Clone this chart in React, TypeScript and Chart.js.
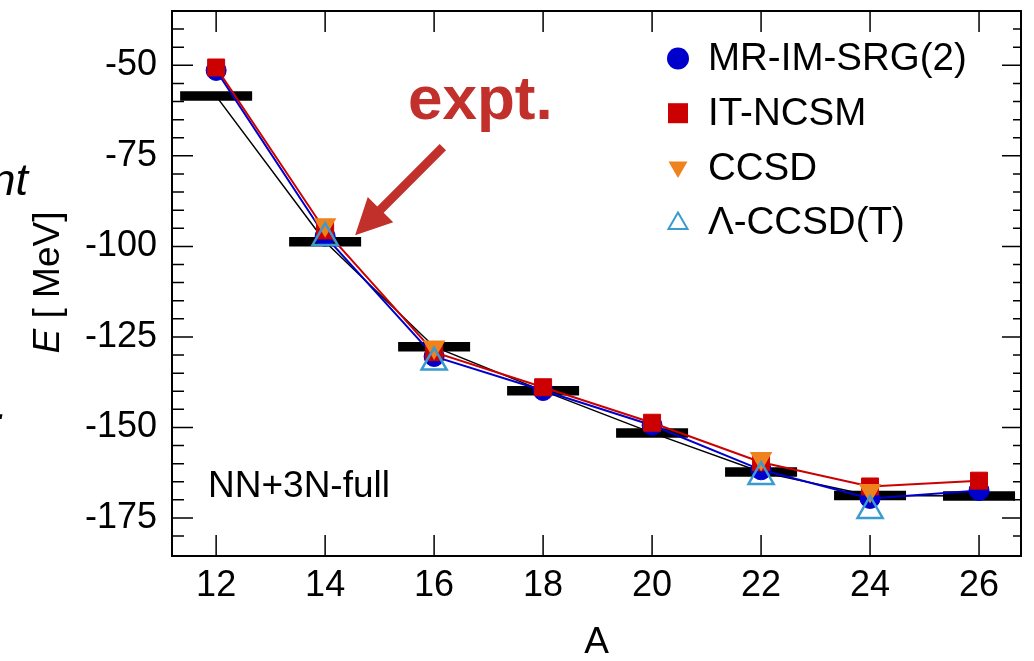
import React, { useEffect, useRef } from "react";
import { Chart, registerables } from "chart.js";

Chart.register(...registerables);

const FONT = '"Liberation Sans", Arial, Helvetica, sans-serif';

// ---- data ----
const MASS_NUMBER = [12, 14, 16, 18, 20, 22, 24, 26];
const EXPT = [-58.5, -98.7, -127.7, -139.9, -151.5, -162.3, -168.8, -168.9];
const MR_IM_SRG2 = [-51.4, -97.2, -130.4, -139.8, -149.4, -161.7, -169.6, -167.4];
const IT_NCSM = [-50.6, -95.6, -129.2, -138.9, -148.7, -159.6, -166.3, -164.7];
const CC_MASS_NUMBER = [14, 16, 22, 24];
const CCSD = [-94.0, -127.8, -158.6, -167.4];
const LAMBDA_CCSD_T = [-97.6, -132.0, -163.6, -173.0];

const X_TICKS = [12, 14, 16, 18, 20, 22, 24, 26];
const Y_TICKS = [-50, -75, -100, -125, -150, -175];
const Y_MINOR_STEP = 5;
const X_MIN = 11.19;
const X_MAX = 26.77;
const Y_MIN = -185.5;
const Y_MAX = -35;

const X_TITLE = "A";
const Y_TITLE_ITALIC = "E";
const Y_TITLE_REST = " [ MeV]";
const INTERACTION_LABEL = "NN+3N-full";
const EXPT_LABEL = "expt.";
// annotation anchors in data units
const EXPT_LABEL_AT = { x: 15.52, y: -64.7 };
const ARROW_FROM = { x: 16.16, y: -72.6 };
const ARROW_TO = { x: 14.55, y: -96.9 };

const pts = (xs: number[], ys: number[]) => xs.map((x, i) => ({ x, y: ys[i] }));

function drawMarker(
  ctx: CanvasRenderingContext2D,
  style: string,
  x: number,
  y: number,
  r: number,
  fill: string,
  stroke: string,
  lw: number,
  rotation: number
) {
  ctx.save();
  ctx.beginPath();
  if (style === "circle") {
    ctx.arc(x, y, r, 0, Math.PI * 2);
  } else if (style === "rect") {
    const s = r;
    ctx.rect(x - s, y - s, 2 * s, 2 * s);
  } else if (style === "triangle") {
    let rad = (rotation * Math.PI) / 180;
    for (let i = 0; i < 3; i++) {
      const px = x + Math.sin(rad) * r;
      const py = y - Math.cos(rad) * r;
      if (i === 0) ctx.moveTo(px, py);
      else ctx.lineTo(px, py);
      rad += (2 * Math.PI) / 3;
    }
    ctx.closePath();
  }
  if (fill && fill !== "transparent") {
    ctx.fillStyle = fill;
    ctx.fill();
  }
  if (lw > 0) {
    ctx.strokeStyle = stroke;
    ctx.lineWidth = lw;
    ctx.stroke();
  }
  ctx.restore();
}

const decorPlugin = {
  id: "decor",
  afterDraw(chart: any) {
    const { ctx, chartArea: ca, scales } = chart;
    const xs = scales.x;
    const ys = scales.y;
    ctx.save();

    // frame
    ctx.strokeStyle = "#000";
    ctx.lineWidth = 2;
    ctx.strokeRect(ca.left, ca.top, ca.right - ca.left, ca.bottom - ca.top);

    // inward ticks
    ctx.lineWidth = 1.5;
    ctx.beginPath();
    X_TICKS.forEach((v) => {
      const p = xs.getPixelForValue(v);
      ctx.moveTo(p, ca.bottom);
      ctx.lineTo(p, ca.bottom - 21);
      ctx.moveTo(p, ca.top);
      ctx.lineTo(p, ca.top + 21);
    });
    for (let v = Math.ceil((Y_MIN + 2) / Y_MINOR_STEP) * Y_MINOR_STEP; v < Y_MAX - 2; v += Y_MINOR_STEP) {
      const major = Y_TICKS.includes(v);
      const p = ys.getPixelForValue(v);
      ctx.moveTo(ca.left, p);
      ctx.lineTo(ca.left + (major ? 21 : 12), p);
      ctx.moveTo(ca.right, p);
      ctx.lineTo(ca.right - (major ? 19 : 8), p);
    }
    ctx.stroke();

    // y title (italic E)
    ctx.save();
    ctx.translate(58.5, (ca.top + ca.bottom) / 2 - 1);
    ctx.rotate(-Math.PI / 2);
    ctx.fillStyle = "#000";
    ctx.textBaseline = "alphabetic";
    ctx.font = `italic 37px ${FONT}`;
    const wE = ctx.measureText(Y_TITLE_ITALIC).width;
    ctx.font = `37px ${FONT}`;
    const wR = ctx.measureText(Y_TITLE_REST).width;
    const start = -(wE + wR) / 2;
    ctx.font = `italic 37px ${FONT}`;
    ctx.fillText(Y_TITLE_ITALIC, start, 0);
    ctx.font = `37px ${FONT}`;
    ctx.fillText(Y_TITLE_REST, start + wE, 0);
    ctx.restore();

    // interaction label
    ctx.fillStyle = "#000";
    ctx.font = `37px ${FONT}`;
    ctx.textAlign = "left";
    ctx.textBaseline = "alphabetic";
    ctx.fillText(INTERACTION_LABEL, ca.left + 36, ca.bottom - 59);

    // legend
    const items = chart.data.datasets.filter((d: any) => d.inLegend);
    const lx = ca.right - 343;
    items.forEach((d: any, i: number) => {
      const cy = ca.top + 47.5 + i * 54.7;
      const style = d.pointStyle;
      let r = 11;
      if (style === "rect") r = 10;
      if (style === "triangle") r = 11;
      const fill = d.pointBackgroundColor;
      const isOpen = fill === "transparent";
      drawMarker(
        ctx,
        style,
        lx,
        cy + (style === "triangle" ? (d.pointRotation ? -1 : 1) : 0),
        r,
        fill,
        d.pointBorderColor,
        isOpen ? 2 : 0,
        d.pointRotation || 0
      );
      ctx.fillStyle = "#000";
      ctx.font = `38.5px ${FONT}`;
      ctx.textAlign = "left";
      ctx.textBaseline = "middle";
      ctx.fillText(d.label, lx + 30, cy + 1);
    });

    // expt. annotation
    const red = "#c1302b";
    ctx.fillStyle = red;
    ctx.font = `bold 62px ${FONT}`;
    ctx.textAlign = "left";
    ctx.textBaseline = "alphabetic";
    ctx.fillText(EXPT_LABEL, xs.getPixelForValue(EXPT_LABEL_AT.x), ys.getPixelForValue(EXPT_LABEL_AT.y));

    const tx = xs.getPixelForValue(ARROW_FROM.x);
    const ty = ys.getPixelForValue(ARROW_FROM.y);
    const hx = xs.getPixelForValue(ARROW_TO.x);
    const hy = ys.getPixelForValue(ARROW_TO.y);
    const len = Math.hypot(hx - tx, hy - ty);
    const ux = (hx - tx) / len;
    const uy = (hy - ty) / len;
    const nx = -uy;
    const ny = ux;
    const shaft = 4.5;
    const headLen = 36;
    const headHalf = 18;
    const bx = hx - ux * headLen;
    const by = hy - uy * headLen;
    ctx.beginPath();
    ctx.moveTo(tx + nx * shaft, ty + ny * shaft);
    ctx.lineTo(bx + nx * shaft, by + ny * shaft);
    ctx.lineTo(bx + nx * headHalf, by + ny * headHalf);
    ctx.lineTo(hx, hy);
    ctx.lineTo(bx - nx * headHalf, by - ny * headHalf);
    ctx.lineTo(bx - nx * shaft, by - ny * shaft);
    ctx.lineTo(tx - nx * shaft, ty - ny * shaft);
    ctx.closePath();
    ctx.fill();

    // fragments of neighbouring text at the left edge
    ctx.fillStyle = "#000";
    ctx.font = `italic 45px ${FONT}`;
    ctx.textAlign = "right";
    ctx.textBaseline = "alphabetic";
    ctx.fillText("nt", 28, 195);
    ctx.fillText(".", 8, 419);

    ctx.restore();
  },
};

export default function App() {
  const canvasRef = useRef<HTMLCanvasElement | null>(null);

  useEffect(() => {
    if (!canvasRef.current) return;
    const tickFont = { family: FONT, size: 36 };
    const chart = new Chart(canvasRef.current, {
      type: "scatter",
      data: {
        datasets: [
          {
            label: "MR-IM-SRG(2)",
            inLegend: true,
            data: pts(MASS_NUMBER, MR_IM_SRG2),
            showLine: true,
            borderColor: "#0000cc",
            borderWidth: 2,
            pointStyle: "circle",
            pointRadius: 10,
            pointBackgroundColor: "#0000cc",
            pointBorderColor: "#0000cc",
            pointBorderWidth: 1,
            order: 3,
          },
          {
            label: "IT-NCSM",
            inLegend: true,
            data: pts(MASS_NUMBER, IT_NCSM),
            showLine: true,
            borderColor: "#cc0000",
            borderWidth: 2,
            pointStyle: "rect",
            pointRadius: 12,
            pointBackgroundColor: "#cc0000",
            pointBorderColor: "#cc0000",
            pointBorderWidth: 1,
            order: 2,
          },
          {
            label: "CCSD",
            inLegend: true,
            data: pts(CC_MASS_NUMBER, CCSD),
            showLine: false,
            borderColor: "#f0821e",
            pointStyle: "triangle",
            pointRotation: 180,
            pointRadius: 13,
            pointBackgroundColor: "#f0821e",
            pointBorderColor: "#f0821e",
            pointBorderWidth: 0,
            order: 1,
          },
          {
            label: "Λ-CCSD(T)",
            inLegend: true,
            data: pts(CC_MASS_NUMBER, LAMBDA_CCSD_T),
            showLine: false,
            borderColor: "#3a9bd0",
            pointStyle: "triangle",
            pointRadius: 14.5,
            pointBackgroundColor: "transparent",
            pointBorderColor: "#3a9bd0",
            pointBorderWidth: 2.5,
            order: 0,
          },
          {
            label: "expt.",
            inLegend: false,
            data: pts(MASS_NUMBER, EXPT),
            showLine: true,
            borderColor: "#000000",
            borderWidth: 1.5,
            pointStyle: "line",
            pointRadius: 36,
            pointBorderColor: "#000000",
            pointBackgroundColor: "#000000",
            pointBorderWidth: 9.5,
            order: 4,
          },
        ] as any,
      },
      options: {
        responsive: false,
        animation: false,
        events: [],
        layout: { autoPadding: false, padding: { top: 11, right: 13, left: 0, bottom: 0 } },
        plugins: {
          legend: { display: false },
          tooltip: { enabled: false },
        },
        scales: {
          x: {
            type: "linear",
            min: X_MIN,
            max: X_MAX,
            afterBuildTicks: (s: any) => {
              s.ticks = X_TICKS.map((v) => ({ value: v }));
            },
            afterFit: (s: any) => {
              s.height = 105;
              s.paddingLeft = 0;
              s.paddingRight = 0;
            },
            ticks: { font: tickFont, color: "#000", padding: 8, maxRotation: 0, autoSkip: false },
            grid: { display: false, drawTicks: false },
            border: { display: false },
            title: {
              display: true,
              text: X_TITLE,
              color: "#000",
              font: { family: FONT, size: 37, lineHeight: 1 },
              padding: { top: 0, bottom: 0 },
            },
          },
          y: {
            type: "linear",
            min: Y_MIN,
            max: Y_MAX,
            afterBuildTicks: (s: any) => {
              s.ticks = Y_TICKS.map((v) => ({ value: v }));
            },
            afterFit: (s: any) => {
              s.width = 172;
              s.paddingTop = 0;
              s.paddingBottom = 0;
            },
            ticks: { font: tickFont, color: "#000", padding: 15, autoSkip: false },
            grid: { display: false, drawTicks: false },
            border: { display: false },
          },
        },
      } as any,
      plugins: [decorPlugin],
    });
    return () => chart.destroy();
  }, []);

  return (
    <div style={{ position: "fixed", left: 0, top: 0, width: 1034, height: 661, background: "#fff" }}>
      <canvas ref={canvasRef} width={1034} height={661} style={{ display: "block" }} />
    </div>
  );
}
